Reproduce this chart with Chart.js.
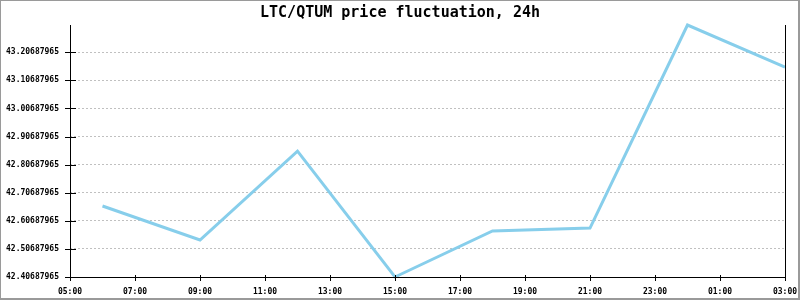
<!DOCTYPE html>
<html>
<head>
<meta charset="utf-8">
<script src="https://cdn.jsdelivr.net/npm/chart.js@4/dist/chart.umd.min.js"></script>
<style>
html,body{margin:0;padding:0;background:#fff;}
canvas{display:block;}
</style>
</head>
<body>
<canvas id="c" width="800" height="300"></canvas>
<script>
const chartTitle = 'LTC/QTUM price fluctuation, 24h';
const hours = [6, 9, 12, 15, 18, 21, 24, 27];
const prices = [42.6596, 42.5386, 42.8550, 42.40687965, 42.5710, 42.5810, 43.3040, 43.1540];
const xTicks = [5, 7, 9, 11, 13, 15, 17, 19, 21, 23, 25, 27];
const yTicks = [42.40687965, 42.50687965, 42.60687965, 42.70687965, 42.80687965, 42.90687965, 43.00687965, 43.10687965, 43.20687965];

const tickFont = {family: '"DejaVu Sans Mono", monospace', size: 8, weight: 'bold'};

const decor = {
  id: 'decor',
  beforeDraw(chart) {
    const ctx = chart.ctx;
    ctx.save();
    ctx.fillStyle = '#fff';
    ctx.fillRect(0, 0, chart.width, chart.height);
    ctx.restore();
  },
  afterDraw(chart) {
    const ctx = chart.ctx;
    const a = chart.chartArea;
    const xs = chart.scales.x, ys = chart.scales.y;
    ctx.save();
    ctx.strokeStyle = '#000';
    ctx.lineWidth = 1;
    ctx.beginPath();
    ctx.moveTo(Math.round(a.left) + 0.5, a.top);
    ctx.lineTo(Math.round(a.left) + 0.5, a.bottom + 0.5);
    ctx.lineTo(Math.round(a.right) + 0.5, a.bottom + 0.5);
    ctx.moveTo(Math.round(a.right) + 0.5, a.top);
    ctx.lineTo(Math.round(a.right) + 0.5, a.bottom + 0.5);
    yTicks.forEach(v => {
      const y = Math.round(ys.getPixelForValue(v)) + 0.5;
      ctx.moveTo(a.left - 5, y);
      ctx.lineTo(a.left + 6, y);
    });
    xTicks.forEach(v => {
      const x = Math.round(xs.getPixelForValue(v)) + 0.5;
      ctx.moveTo(x, a.bottom - 2);
      ctx.lineTo(x, a.bottom + 4);
    });
    ctx.stroke();
    ctx.fillStyle = '#000';
    ctx.font = 'bold 15px "DejaVu Sans Mono", monospace';
    ctx.textAlign = 'center';
    ctx.textBaseline = 'middle';
    ctx.fillText(chartTitle, chart.width / 2, 13);
    ctx.fillStyle = '#9a9a9a';
    ctx.fillRect(0, 0, chart.width, 1);
    ctx.fillRect(0, 0, 1, chart.height);
    ctx.fillRect(chart.width - 2, 0, 2, chart.height);
    ctx.fillRect(0, chart.height - 2, chart.width, 2);
    ctx.restore();
  }
};

new Chart(document.getElementById('c'), {
  type: 'line',
  data: {
    datasets: [{
      data: hours.map((h, i) => ({x: h, y: prices[i]})),
      borderColor: '#87ceeb',
      borderWidth: 3,
      pointRadius: 0,
      tension: 0,
      fill: false,
      clip: false
    }]
  },
  options: {
    responsive: false,
    animation: false,
    layout: {padding: {top: 25, right: 15, left: 0, bottom: 0}},
    plugins: {legend: {display: false}, title: {display: false}, tooltip: {enabled: false}},
    scales: {
      x: {
        type: 'linear',
        min: xTicks[0],
        max: xTicks[xTicks.length - 1],
        afterBuildTicks: s => { s.ticks = xTicks.map(v => ({value: v})); },
        afterFit: s => { s.height = 23; s.paddingLeft = 0; s.paddingRight = 0; },
        grid: {display: false, drawTicks: false},
        border: {display: false},
        ticks: {
          autoSkip: false, maxRotation: 0, padding: 10,
          color: '#000', font: tickFont,
          callback: v => String(v % 24).padStart(2, '0') + ':00'
        }
      },
      y: {
        min: Math.min(...prices),
        max: Math.max(...prices),
        afterBuildTicks: s => { s.ticks = yTicks.map(v => ({value: v})); },
        afterFit: s => { s.width = 70; s.paddingTop = 0; s.paddingBottom = 0; },
        grid: {color: '#c0c0c0', drawTicks: false, tickLength: 0},
        border: {display: false, dash: [2, 2]},
        ticks: {
          padding: 11, color: '#000', font: tickFont,
          callback: v => Number(v).toFixed(8)
        }
      }
    }
  },
  plugins: [decor]
});
</script>
</body>
</html>
